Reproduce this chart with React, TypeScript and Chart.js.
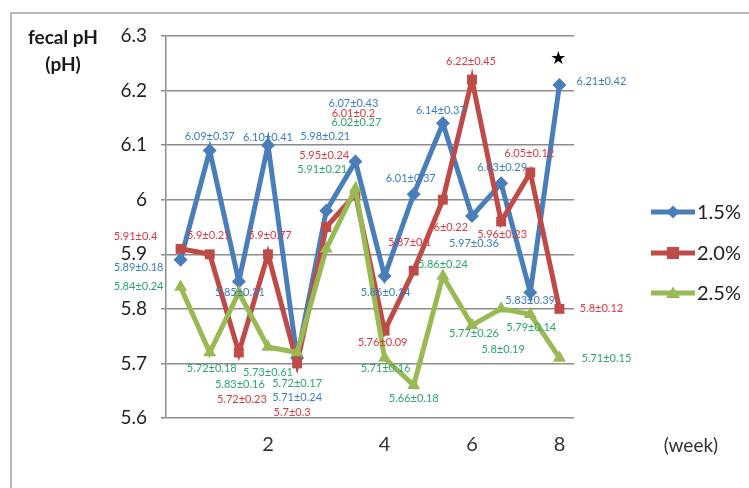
import React, { useEffect, useRef } from "react";
import { Chart, registerables } from "chart.js";

Chart.register(...registerables);

// Weekly fecal pH (mean) by supplementation level
const weeks = ["", "", "", "2", "", "", "", "4", "", "", "6", "", "", "8"];
const ph15 = [5.89, 6.09, 5.85, 6.1, 5.71, 5.98, 6.07, 5.86, 6.01, 6.14, 5.97, 6.03, 5.83, 6.21];
const ph20 = [5.91, 5.9, 5.72, 5.9, 5.7, 5.95, 6.01, 5.76, 5.87, 6.0, 6.22, 5.96, 6.05, 5.8];
const ph25 = [5.84, 5.72, 5.83, 5.73, 5.72, 5.91, 6.02, 5.71, 5.66, 5.86, 5.77, 5.8, 5.79, 5.71];
// standard deviations shown beside each mean
const sd15 = ["0.18", "0.37", "0.31", "0.41", "0.24", "0.21", "0.43", "0.14", "0.37", "0.37", "0.36", "0.29", "0.39", "0.42"];
const sd20 = ["0.4", "0.21", "0.23", "0.77", "0.3", "0.24", "0.2", "0.09", "0.1", "0.22", "0.45", "0.23", "0.12", "0.12"];
const sd25 = ["0.24", "0.18", "0.16", "0.61", "0.17", "0.21", "0.27", "0.16", "0.18", "0.24", "0.26", "0.19", "0.14", "0.15"];
const seriesNames = ["1.5%", "2.0%", "2.5%"];

// label placement relative to each marker [dx, dy]
const off15 = [[-42, 8], [0, -14], [1, 11], [0, -8], [0, 39], [-1, -74], [-2, -58], [1, 16], [-3, -16], [-2, -13], [2, 27], [1, -16], [0, 8], [42, -4]];
const off20 = [[-45, -12], [-1, -19], [3, 47], [2, -19], [-5, 49], [-2, -72], [-2, -81], [-2, 12], [-4, -28], [8, 28], [-1, -18], [1, 13], [-1, -19], [42, 0]];
const off25 = [[-42, -1], [2, 16], [1, 92], [0, 25], [0, 31], [-4, -79], [1, -66], [1, 10], [0, 13], [0, -12], [2, 8], [2, 41], [1, 13], [47, 0]];

const lineColors = ["#4a7ebb", "#be4b48", "#98b954"];
const textColors = ["#3b7dc4", "#e0363f", "#2ca66c"];
const markers = ["rectRot", "rect", "triangle"];

// 1.5% means are printed with two decimals, the others without trailing zeros
const fmtMean = (v: number, d: number) => (d === 0 ? v.toFixed(2) : String(Number(v.toFixed(2))));

const decorations = {
  id: "decorations",
  beforeDraw(chart: any) {
    const { ctx } = chart;
    ctx.save();
    ctx.fillStyle = "#ffffff";
    ctx.fillRect(0, 0, chart.width, chart.height);
    ctx.strokeStyle = "#b8b8b8";
    ctx.lineWidth = 2;
    ctx.beginPath();
    ctx.moveTo(11, chart.height);
    ctx.lineTo(11, 13);
    ctx.lineTo(chart.width, 13);
    ctx.stroke();
    ctx.fillStyle = "#1a1a1a";
    ctx.font = "bold 19px Lato";
    ctx.textAlign = "center";
    ctx.textBaseline = "middle";
    ctx.fillText("fecal pH", 63, 38);
    ctx.fillText("(pH)", 63, 65);
    ctx.restore();
  },
  afterDatasetsDraw(chart: any) {
    const { ctx, chartArea } = chart;
    const sds = [sd15, sd20, sd25];
    const offs = [off15, off20, off25];
    ctx.save();
    ctx.font = "11px Lato";
    ctx.textAlign = "center";
    ctx.textBaseline = "middle";
    chart.data.datasets.forEach((ds: any, d: number) => {
      const meta = chart.getDatasetMeta(d);
      ctx.fillStyle = textColors[d];
      meta.data.forEach((pt: any, i: number) => {
        const [dx, dy] = offs[d][i];
        ctx.fillText(`${fmtMean(ds.data[i], d)}±${sds[d][i]}`, pt.x + dx, pt.y + dy);
      });
    });
    // significance mark on the last 1.5% point
    const last = chart.getDatasetMeta(0).data[ph15.length - 1];
    ctx.fillStyle = "#000";
    ctx.font = "18px 'DejaVu Sans'";
    ctx.fillText("★", last.x - 1, last.y - 26);

    // legend
    const lx = chartArea.right + 77;
    const ly = [212, 253, 293];
    seriesNames.forEach((name, d) => {
      ctx.strokeStyle = lineColors[d];
      ctx.lineWidth = 5;
      ctx.beginPath();
      ctx.moveTo(lx, ly[d]);
      ctx.lineTo(lx + 44, ly[d]);
      ctx.stroke();
      ctx.fillStyle = lineColors[d];
      const cx = lx + 22;
      const cy = ly[d];
      ctx.beginPath();
      if (d === 0) {
        ctx.moveTo(cx, cy - 6.5); ctx.lineTo(cx + 6.5, cy); ctx.lineTo(cx, cy + 6.5); ctx.lineTo(cx - 6.5, cy);
      } else if (d === 1) {
        ctx.rect(cx - 6, cy - 6, 12, 12);
      } else {
        ctx.moveTo(cx, cy - 6.5); ctx.lineTo(cx + 7, cy + 5); ctx.lineTo(cx - 7, cy + 5);
      }
      ctx.closePath();
      ctx.fill();
      ctx.fillStyle = "#222";
      ctx.font = "20px Lato";
      ctx.textAlign = "left";
      ctx.fillText(name, lx + 46, cy + 1);
    });
    ctx.fillStyle = "#333";
    ctx.font = "19px Lato";
    ctx.textAlign = "center";
    ctx.fillText("(week)", 691, 446);
    ctx.restore();
  },
};

export default function App() {
  const ref = useRef<HTMLCanvasElement>(null);
  useEffect(() => {
    if (!ref.current) return;
    const series = [ph15, ph20, ph25];
    const chart = new Chart(ref.current, {
      type: "line",
      data: {
        labels: weeks,
        datasets: series.map((data, d) => ({
          label: seriesNames[d],
          data,
          borderColor: lineColors[d],
          backgroundColor: lineColors[d],
          borderWidth: 5,
          pointStyle: markers[d] as any,
          pointRadius: d === 2 ? 7.5 : 7,
          pointBorderWidth: 0,
          tension: 0,
          order: 2 - d,
        })),
      },
      options: {
        responsive: false,
        animation: false,
        layout: { padding: { left: 0, right: 175, top: 36, bottom: 0 } },
        plugins: { legend: { display: false }, tooltip: { enabled: false } },
        scales: {
          x: {
            type: "category",
            offset: true,
            grid: { display: false, drawTicks: false },
            border: { display: false },
            ticks: {
              autoSkip: false,
              maxRotation: 0,
              padding: 15,
              color: "#333",
              font: { family: "Lato", size: 20 },
            },
            afterFit: (s: any) => { s.height = 70; },
          },
          y: {
            min: 5.6,
            max: 6.3,
            grid: { color: "#8c8c8c", lineWidth: 1.5, tickLength: 5 },
            border: { color: "#8c8c8c", width: 1.5 },
            ticks: {
              stepSize: 0.1,
              padding: 14,
              color: "#222",
              font: { family: "Lato", size: 19 },
              callback: (v: any) => String(Number(Number(v).toFixed(1))),
            },
            afterFit: (s: any) => { s.width = 166; },
          },
        },
      },
      plugins: [decorations],
    });
    return () => chart.destroy();
  }, []);
  return (
    <div style={{ position: "absolute", left: 0, top: 0, width: 749, height: 488, background: "#fff" }}>
      <canvas ref={ref} width={749} height={488} />
    </div>
  );
}
